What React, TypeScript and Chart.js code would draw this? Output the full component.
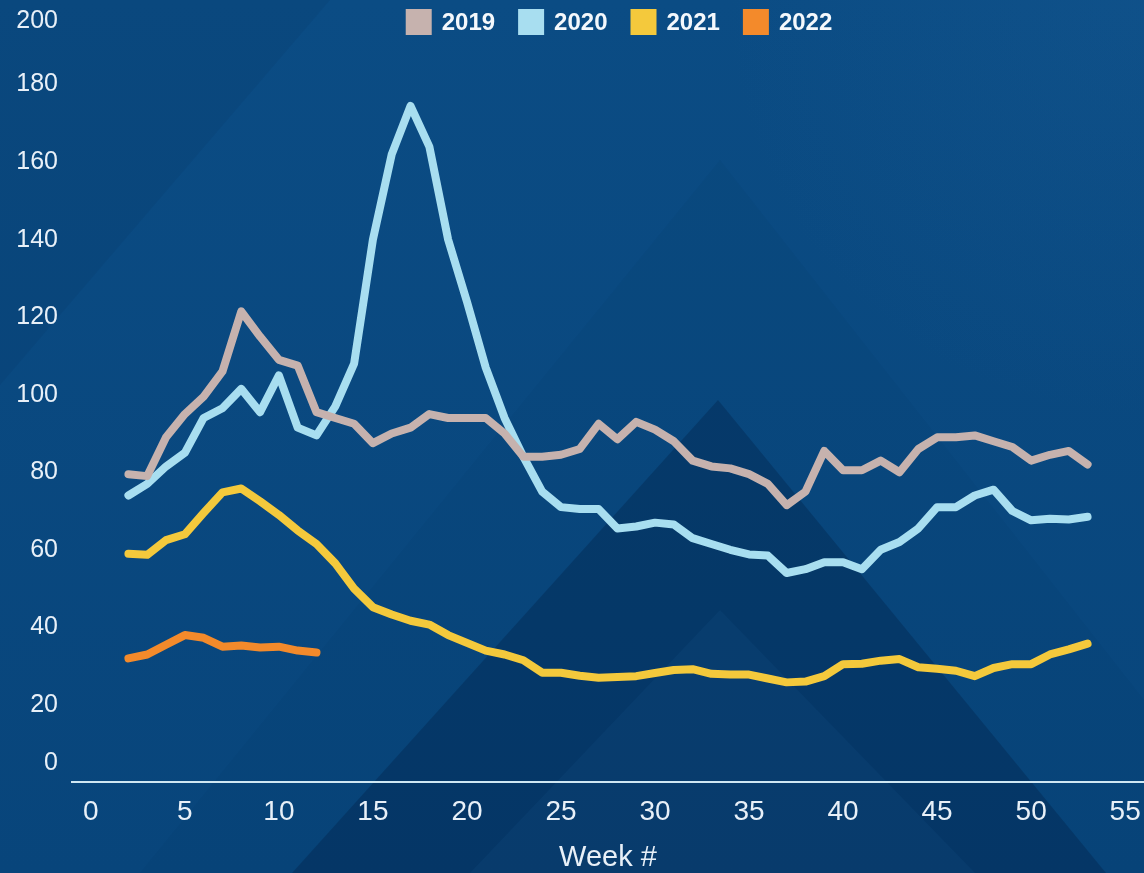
import { useEffect, useRef } from "react";
import { Chart, registerables } from "chart.js";

Chart.register(...registerables);

// ---------- data ----------
const weeks = [
  2, 3, 4, 5, 6, 7, 8, 9, 10, 11, 12, 13, 14, 15, 16, 17, 18, 19, 20, 21, 22, 23, 24, 25, 26, 27,
  28, 29, 30, 31, 32, 33, 34, 35, 36, 37, 38, 39, 40, 41, 42, 43, 44, 45, 46, 47, 48, 49, 50, 51, 52, 53,
];
const weeks2022 = [2, 3, 4, 5, 6, 7, 8, 9, 10, 11, 12];

const values2019 = [
  79.5, 79, 89, 95, 99.5, 106, 121.5, 115, 109, 107.5, 95.5, 94, 92.5, 87.5, 90, 91.5, 95, 94, 94, 94,
  90, 84, 84, 84.5, 86, 92.5, 88.5, 93, 91, 88, 83, 81.5, 81, 79.5, 77, 71.5, 75, 85.5, 80.5, 80.5,
  83, 80, 86, 89, 89, 89.5, 88, 86.5, 83, 84.5, 85.5, 82,
];
const values2020 = [
  74, 77, 81.5, 85, 94, 96.5, 101.5, 95.5, 105, 91.5, 89.5, 97, 108, 140, 162, 174.5, 164, 140, 124,
  107, 94, 84, 75, 71, 70.5, 70.5, 65.5, 66, 67, 66.5, 63, 61.5, 60, 58.8, 58.5, 54, 55, 56.8, 56.8,
  55, 60, 62, 65.5, 71, 71, 74, 75.5, 70, 67.6, 68, 67.8, 68.5,
];
const values2021 = [
  59, 58.7, 62.5, 64, 69.5, 74.8, 75.8, 72.5, 69, 65, 61.5, 56.5, 50, 45.2, 43.3, 41.7, 40.7, 38, 36,
  34, 33, 31.5, 28.3, 28.3, 27.5, 27, 27.2, 27.4, 28.2, 29, 29.2, 28, 27.8, 27.8, 26.8, 25.8, 26,
  27.4, 30.5, 30.6, 31.4, 31.8, 29.7, 29.3, 28.8, 27.4, 29.5, 30.5, 30.5, 33, 34.3, 35.8,
];
const values2022 = [32, 33, 35.5, 38, 37.3, 35, 35.3, 34.8, 35, 34, 33.5];

const seriesLabels = ["2019", "2020", "2021", "2022"];
const seriesColors = ["#c6b2ae", "#a8def0", "#f4c93c", "#f38a2b"];

const xTicks = [0, 5, 10, 15, 20, 25, 30, 35, 40, 45, 50, 55];
const yTicks = [0, 20, 40, 60, 80, 100, 120, 140, 160, 180, 200];
const xTitle = "Week #";

const FONT = "'Liberation Sans', Arial, Helvetica, sans-serif";
const TEXT = "#e8f0f8";

const toPoints = (xs: number[], ys: number[]) => xs.map((x, i) => ({ x, y: ys[i] }));

// ---------- plugins ----------
const backgroundPlugin = {
  id: "bgTriangles",
  beforeDraw(chart: any) {
    const { ctx, width, height } = chart;
    const sx = width / 1144;
    const sy = height / 873;
    ctx.save();
    const g = ctx.createLinearGradient(0, 0, 0, height);
    g.addColorStop(0, "#0b4c84");
    g.addColorStop(1, "#08457b");
    ctx.fillStyle = g;
    ctx.fillRect(0, 0, width, height);

    const poly = (pts: number[][], color: any) => {
      ctx.beginPath();
      pts.forEach(([x, y], i) => (i ? ctx.lineTo(x * sx, y * sy) : ctx.moveTo(x * sx, y * sy)));
      ctx.closePath();
      ctx.fillStyle = color;
      ctx.fill();
    };
    // upper-right glow
    const r = ctx.createRadialGradient(1144 * sx, 0, 10, 1144 * sx, 0, 420 * sx);
    r.addColorStop(0, "rgba(40,110,170,0.14)");
    r.addColorStop(1, "rgba(40,110,170,0)");
    ctx.fillStyle = r;
    ctx.fillRect(0, 0, width, height);
    // upper-left darker wedge
    poly([[0, 0], [330, 0], [0, 385]], "rgba(0,25,60,0.08)");
    // large faint mountain
    poly([[720, 160], [140, 873], [1144, 873], [1144, 700]], "rgba(0,20,55,0.04)");
    // dark mountain
    poly([[718, 400], [292, 873], [1106, 873]], "rgba(0,22,55,0.27)");
    // inner lighter mountain
    poly([[720, 610], [470, 873], [975, 873]], "rgba(25,85,145,0.16)");
    ctx.restore();
  },
};

const yLabelPlugin = {
  id: "yLabels",
  afterDraw(chart: any) {
    const { ctx, chartArea } = chart;
    const y = chart.scales.y;
    ctx.save();
    ctx.font = `25px ${FONT}`;
    ctx.fillStyle = TEXT;
    ctx.textAlign = "right";
    ctx.textBaseline = "middle";
    yTicks.forEach((v, i) => {
      let py = y.getPixelForValue(v);
      if (i === 0) py -= 19;
      if (i === yTicks.length - 1) py += 14;
      ctx.fillText(String(v), chartArea.left - 14, py);
    });
    ctx.restore();
  },
};

const legendPlugin = {
  id: "customLegend",
  afterDraw(chart: any) {
    const { ctx, chartArea } = chart;
    const box = 26;
    const gapText = 10;
    const gapItem = 23;
    ctx.save();
    ctx.font = `bold 24px ${FONT}`;
    const items = chart.data.datasets.map((d: any) => ({
      label: d.label,
      color: d.borderColor,
      w: ctx.measureText(d.label).width,
    }));
    const total =
      items.reduce((s: number, it: any) => s + box + gapText + it.w, 0) + gapItem * (items.length - 1);
    let x = chartArea.left + chartArea.width / 2 + 11 - total / 2;
    const top = 9;
    items.forEach((it: any) => {
      ctx.fillStyle = it.color;
      ctx.fillRect(x, top, box, box);
      ctx.fillStyle = "#f4f8fc";
      ctx.textAlign = "left";
      ctx.textBaseline = "middle";
      ctx.fillText(it.label, x + box + gapText, top + box / 2 + 1);
      x += box + gapText + it.w + gapItem;
    });
    ctx.restore();
  },
};

export default function App() {
  const canvasRef = useRef<HTMLCanvasElement | null>(null);

  useEffect(() => {
    document.body.style.margin = "0";
    document.body.style.background = "#0a4880";
    const canvas = canvasRef.current;
    if (!canvas) return;

    const lineStyle = (i: number) => ({
      label: seriesLabels[i],
      borderColor: seriesColors[i],
      backgroundColor: seriesColors[i],
      borderWidth: 8,
      pointRadius: 0,
      pointHoverRadius: 0,
      tension: 0,
      fill: false,
      borderCapStyle: "round" as const,
      borderJoinStyle: "round" as const,
    });

    const chart = new Chart(canvas, {
      type: "line",
      data: {
        datasets: [
          { ...lineStyle(0), data: toPoints(weeks, values2019) },
          { ...lineStyle(1), data: toPoints(weeks, values2020) },
          { ...lineStyle(2), data: toPoints(weeks, values2021) },
          { ...lineStyle(3), data: toPoints(weeks2022, values2022) },
        ],
      },
      options: {
        animation: false,
        responsive: false,
        devicePixelRatio: 1,
        layout: { padding: { left: 72, top: 7, right: 0, bottom: 0 } },
        plugins: {
          legend: { display: false },
          tooltip: { enabled: false },
        },
        scales: {
          x: {
            type: "linear",
            min: -1,
            max: 56,
            grid: { display: false, drawTicks: false },
            border: { display: true, color: "#cfe7f3", width: 2 },
            afterBuildTicks: (scale: any) => {
              scale.ticks = xTicks.map((v) => ({ value: v }));
            },
            afterFit: (scale: any) => {
              scale.paddingLeft = 0;
              scale.paddingRight = 0;
            },
            ticks: {
              color: TEXT,
              font: { size: 28, family: FONT },
              padding: 13,
              maxRotation: 0,
              autoSkip: false,
            },
            title: {
              display: true,
              text: xTitle,
              color: TEXT,
              font: { size: 29, family: FONT, lineHeight: 1 },
              padding: { top: 1, bottom: 1 },
            },
          },
          y: {
            display: false,
            min: 0,
            max: 200,
          },
        },
      },
      plugins: [backgroundPlugin, yLabelPlugin, legendPlugin],
    } as any);

    return () => chart.destroy();
  }, []);

  return (
    <div style={{ width: 1144, height: 873, overflow: "hidden" }}>
      <canvas ref={canvasRef} width={1144} height={873} style={{ display: "block" }} />
    </div>
  );
}
